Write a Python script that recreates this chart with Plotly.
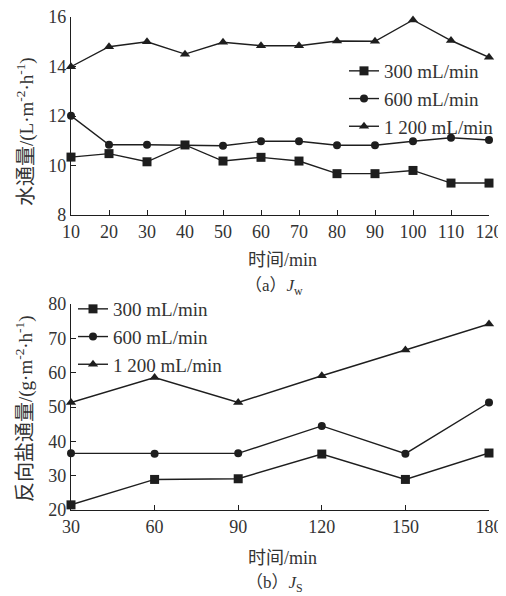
import plotly.graph_objects as go

# ---- data: (a) water flux Jw ----
time_a = [10, 20, 30, 40, 50, 60, 70, 80, 90, 100, 110, 120]
jw_300 = [10.34, 10.48, 10.15, 10.83, 10.18, 10.33, 10.18, 9.67, 9.67, 9.80, 9.29, 9.29]
jw_600 = [12.01, 10.84, 10.84, 10.83, 10.80, 10.98, 10.98, 10.82, 10.82, 10.98, 11.12, 11.03]
jw_1200 = [13.99, 14.80, 15.00, 14.50, 14.98, 14.84, 14.84, 15.03, 15.02, 15.88, 15.05, 14.37]

# ---- data: (b) reverse salt flux Js ----
time_b = [30, 60, 90, 120, 150, 180]
js_300 = [21.5, 28.9, 29.1, 36.3, 28.9, 36.6]
js_600 = [36.5, 36.4, 36.5, 44.5, 36.4, 51.3]
js_1200 = [51.3, 58.6, 51.3, 59.1, 66.6, 74.2]

series_names = ["300 mL/min", "600 mL/min", "1 200 mL/min"]
symbols = ["square", "circle", "triangle-up"]
sizes = [9, 8, 9]

ticks_a_x = [10, 20, 30, 40, 50, 60, 70, 80, 90, 100, 110, 120]
ticks_a_y = [8, 10, 12, 14, 16]
ticks_b_x = [30, 60, 90, 120, 150, 180]
ticks_b_y = [20, 30, 40, 50, 60, 70, 80]

# the page body has an 8px margin: layout positions are given in window pixels
OFF = 8
W, H = 506, 596
LINE = "#1e1e1e"
TEXT = "#333333"
FONT = "Liberation Serif, Times New Roman, Noto Sans CJK SC, serif"

fig = go.Figure()

for ys, name, sym, sz in zip([jw_300, jw_600, jw_1200], series_names, symbols, sizes):
    fig.add_trace(go.Scatter(
        x=time_a, y=ys, name=name, mode="lines+markers",
        line=dict(color=LINE, width=1.4),
        marker=dict(symbol=sym, size=sz, color=LINE),
        xaxis="x", yaxis="y", legend="legend", cliponaxis=False))

for ys, name, sym, sz in zip([js_300, js_600, js_1200], series_names, symbols, sizes):
    fig.add_trace(go.Scatter(
        x=time_b, y=ys, name=name, mode="lines+markers",
        line=dict(color=LINE, width=1.4),
        marker=dict(symbol=sym, size=sz, color=LINE),
        xaxis="x2", yaxis="y2", legend="legend2", cliponaxis=False))

def px_x(p):
    return (p - OFF) / W

def px_y(p):
    return (H - (p - OFF)) / H

axis_common = dict(
    showgrid=False, zeroline=False, showline=True, linecolor=LINE, linewidth=1.2,
    ticks="inside", ticklen=5, tickwidth=1.2, tickcolor=LINE,
    tickfont=dict(family=FONT, size=18, color=TEXT), mirror=False, automargin=False,
    ticklabeloverflow="allow",
)

fig.update_layout(
    width=W, height=H,
    margin=dict(l=0, r=0, t=0, b=0, autoexpand=False),
    paper_bgcolor="white", plot_bgcolor="white",
    font=dict(family=FONT, size=18, color=TEXT),
    xaxis=dict(domain=[px_x(71), px_x(489)], range=[10, 120], tickvals=ticks_a_x,
               anchor="y", **axis_common),
    yaxis=dict(domain=[px_y(215), px_y(17)], range=[8, 16], tickvals=ticks_a_y,
               anchor="x", **axis_common),
    xaxis2=dict(domain=[px_x(71), px_x(489)], range=[30, 180], tickvals=ticks_b_x,
                anchor="y2", **axis_common),
    yaxis2=dict(domain=[px_y(510), px_y(304)], range=[20, 80], tickvals=ticks_b_y,
                anchor="x2", **axis_common),
    legend=dict(x=px_x(344), y=px_y(52), xanchor="left", yanchor="top",
                bgcolor="rgba(0,0,0,0)", font=dict(family=FONT, size=19, color=TEXT),
                tracegroupgap=0, itemwidth=30),
    legend2=dict(x=px_x(73), y=px_y(290), xanchor="left", yanchor="top",
                 bgcolor="rgba(0,0,0,0)", font=dict(family=FONT, size=19, color=TEXT),
                 tracegroupgap=0, itemwidth=30),
    showlegend=True,
)

CJK = '<span style="font-size:20px">{}</span>'
ann = [
    dict(text="时间/min", x=px_x(282), y=px_y(260), size=18),
    dict(text="（a）<i>J</i><sub>w</sub>", x=px_x(274), y=px_y(287), size=17),
    dict(text="时间/min", x=px_x(282), y=px_y(558), size=18),
    dict(text="（b）<i>J</i><sub>S</sub>", x=px_x(274), y=px_y(584), size=17),
    dict(text=CJK.format("水通量") + "/(L·m<sup>-2</sup>·h<sup>-1</sup>)",
         x=px_x(25), y=px_y(132), textangle=-90, size=19),
    dict(text=CJK.format("反向盐通量") + "/(g·m<sup>-2</sup>·h<sup>-1</sup>)",
         x=px_x(25), y=px_y(409), textangle=-90, size=19),
]
for a in ann:
    size = a.pop("size")
    fig.add_annotation(xref="paper", yref="paper", showarrow=False,
                       xanchor="center", yanchor="middle",
                       font=dict(family=FONT, size=size, color=TEXT), **a)

fig.write_html("out.html")
